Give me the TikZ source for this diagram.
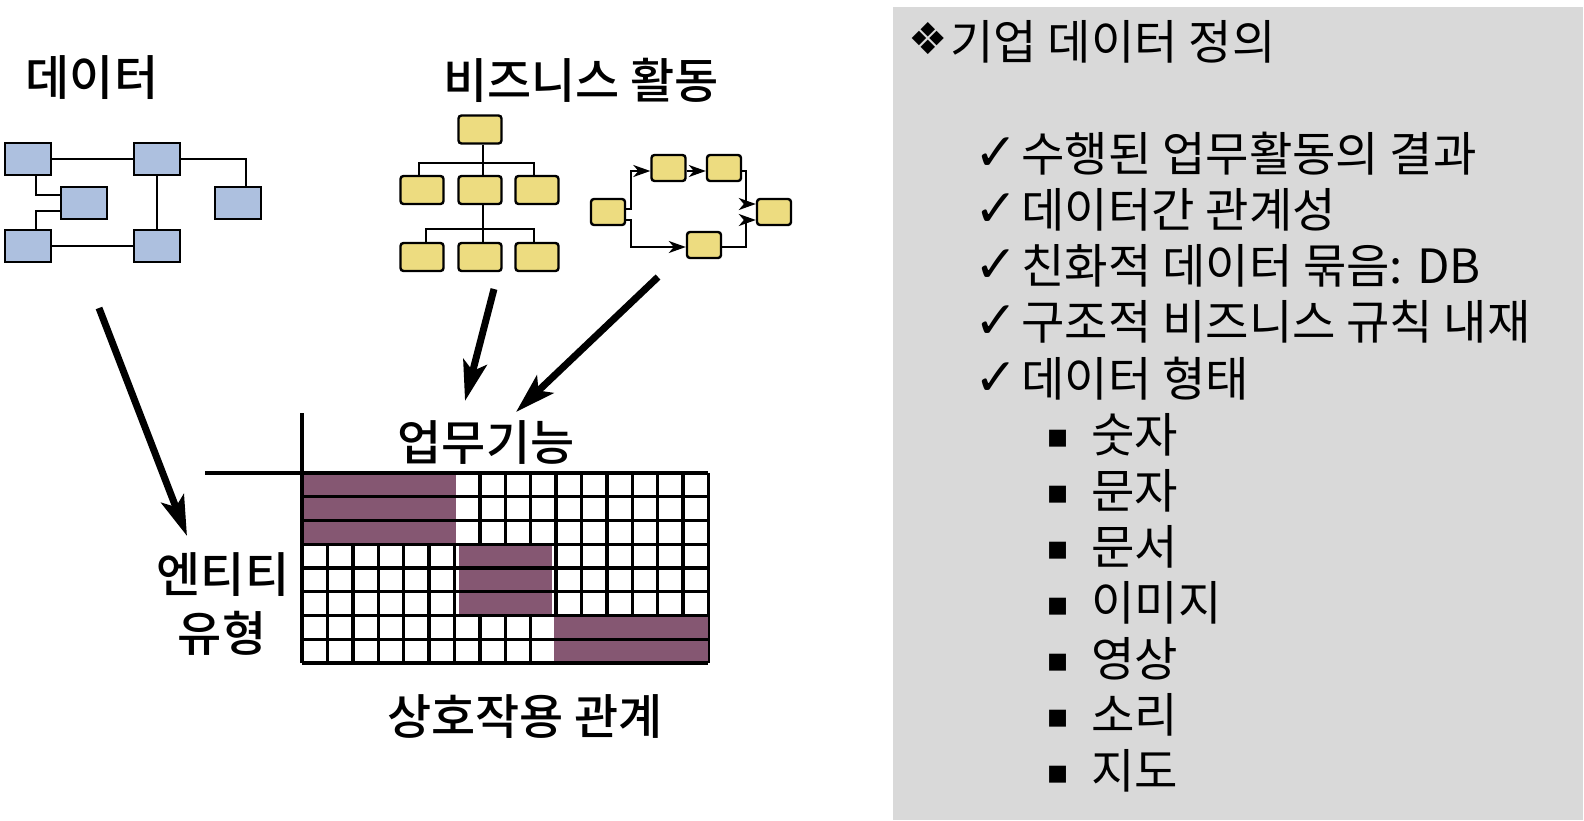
\documentclass[tikz,border=0pt]{standalone}
\usepackage{fontspec}
\usepackage{tikz}
\usetikzlibrary{arrows.meta}
\setmainfont{Noto Sans CJK KR}
\newfontfamily\headfont{Noto Sans CJK KR Medium}
\newfontfamily\symfont{DejaVu Sans}
\definecolor{bluefill}{HTML}{ADC0DF}
\definecolor{yellowfill}{HTML}{EDDC80}
\definecolor{plumfill}{HTML}{855772}
\definecolor{panelfill}{HTML}{D9D9D9}
\tikzset{
  bluebox/.style={draw,fill=bluefill,minimum width=23pt,minimum height=16pt,inner sep=0pt,line width=1.2pt},
  treebox/.style={draw,fill=yellowfill,rounded corners=1.5pt,minimum width=21.5pt,minimum height=14pt,inner sep=0pt,line width=1.2pt},
  flowbox/.style={draw,fill=yellowfill,rounded corners=1.5pt,minimum width=17pt,minimum height=13pt,inner sep=0pt,line width=1.2pt},
  linkline/.style={line width=1.1pt},
  flowline/.style={line width=1pt,-{Stealth[length=8.5pt,width=6pt,inset=2.5pt]}},
  bigarrow/.style={line width=3.5pt,-{Stealth[length=20pt,width=12pt,inset=4.5pt]}},
  heading/.style={inner sep=0pt,font=\headfont\fontsize{24}{28}\selectfont},
  bodytext/.style={anchor=base west,inner sep=0pt,font=\fontsize{23.6}{28}\selectfont},
  marktext/.style={anchor=base west,inner sep=0pt,font=\symfont\fontsize{26}{30}\selectfont},
  squaretext/.style={anchor=base west,inner sep=0pt,font=\symfont\fontsize{17}{24}\selectfont},
}
\begin{document}
\begin{tikzpicture}[x=0.5pt,y=-0.5pt]
  \useasboundingbox (0,0) rectangle (1584,820);
  \fill[panelfill] (893,7) rectangle (1583,820);

  \node[heading] (datatitle) at (92,78) {데이터};
  \node[heading] (worktitle) at (581,80) {비즈니스 활동};
  \node[heading] (funclabel) at (486,442) {업무기능};
  \node[heading] (entlabel1) at (223,575) {엔티티};
  \node[heading] (entlabel2) at (222,633) {유형};
  \node[heading] (rellabel) at (525,717) {상호작용 관계};

  % data model
  \node[bluebox] (d1) at (28,159) {};
  \node[bluebox] (d2) at (157,159) {};
  \node[bluebox] (d3) at (84,203) {};
  \node[bluebox] (d4) at (238,203) {};
  \node[bluebox] (d5) at (28,246) {};
  \node[bluebox] (d6) at (157,246) {};

  \draw[linkline] (d1)--(d2);
  \draw[linkline] (d5)--(d6);
  \draw[linkline] (d2)--(d6);
  \draw[linkline] (d2.east) -| ([xshift=4pt]d4.north);
  \draw[linkline] ([xshift=4pt]d1.south) |- ([yshift=4pt]d3.west);
  \draw[linkline] ([xshift=4pt]d5.north) |- ([yshift=-4pt]d3.west);

  % org tree
  \node[treebox] (t0) at (480,129.5) {};
  \node[treebox] (t1) at (422,190) {};
  \node[treebox] (t2) at (480,190) {};
  \node[treebox] (t3) at (537,190) {};
  \node[treebox] (t4) at (422,257) {};
  \node[treebox] (t5) at (480,257) {};
  \node[treebox] (t6) at (537,257) {};
  \coordinate (bus1) at (483,163);
  \coordinate (bus2) at (483,229);

  \draw[linkline] ([xshift=1.5pt]t0.south)--([xshift=1.5pt]t2.north);
  \draw[linkline] ([xshift=1.5pt]t2.south)--([xshift=1.5pt]t5.north);
  \draw[linkline] ([xshift=-1.5pt]t1.north) |- (bus1) -| ([xshift=-1.5pt]t3.north);
  \draw[linkline] ([xshift=2pt]t4.north) |- (bus2) -| ([xshift=-1.5pt]t6.north);

  % process flow
  \node[flowbox] (f1) at (608,212) {};
  \node[flowbox] (f2) at (668.5,168) {};
  \node[flowbox] (f3) at (724,168) {};
  \node[flowbox] (f4) at (704,245) {};
  \node[flowbox] (f5) at (774,212) {};
  \coordinate (upbend) at (631,171);
  \coordinate (downbend) at (631,247);
  \coordinate (rightbend) at (746,171);
  \coordinate (lowbend) at (746,247);

  \draw[flowline] ([yshift=1.5pt]f1.east) -| (upbend) -- ([yshift=-1.5pt]f2.west);
  \draw[flowline] ([yshift=-1.5pt]f2.east)--([yshift=-1.5pt]f3.west);
  \draw[flowline] ([yshift=-4pt]f1.east) -| (downbend) -- ([yshift=-1pt]f4.west);
  \draw[flowline] ([yshift=-1.5pt]f3.east) -- (rightbend) |- ([yshift=4pt]f5.west);
  \draw[flowline] ([yshift=-1pt]f4.east) -- (lowbend) |- ([yshift=-4pt]f5.west);

  % big arrows
  \coordinate (a1) at (99,308);
  \coordinate (a2) at (187,536);
  \coordinate (b1) at (494,289);
  \coordinate (b2) at (465,401);
  \coordinate (c1) at (658,277);
  \coordinate (c2) at (516,412);
  \draw[bigarrow] (a1)--(a2);
  \draw[bigarrow] (b1)--(b2);
  \draw[bigarrow] (c1)--(c2);

  % matrix
  \foreach \col in {0,...,16}
    \draw[line width=1.7pt] ({302+25.4*\col},473)--({302+25.4*\col},663);
  \fill[plumfill] (302,473) rectangle (456,544);
  \fill[plumfill] (458.5,544) rectangle (552,615.5);
  \fill[plumfill] (554,615.5) rectangle (708,663);
  \foreach \row in {0,...,8}
    \draw[line width=1.7pt] (302,{473+23.75*\row})--(708,{473+23.75*\row});
  \draw[line width=2pt] (302,413)--(302,663);
  \draw[line width=2pt] (205,473)--(708,473);

  % right panel
  \node[marktext,font=\symfont\fontsize{22}{24}\selectfont] (m0) at (908,54) {❖};
  \node[bodytext] (l0) at (950,59) {기업 데이터 정의};
  \node[marktext] (m1) at (974,170.6) {✓};
  \node[bodytext] (l1) at (1021,171.6) {수행된 업무활동의 결과};
  \node[marktext] (m2) at (974,226.7) {✓};
  \node[bodytext] (l2) at (1021,227.7) {데이터간 관계성};
  \node[marktext] (m3) at (974,282.8) {✓};
  \node[bodytext] (l3) at (1021,283.8) {친화적 데이터 묶음: DB};
  \node[marktext] (m4) at (974,338.9) {✓};
  \node[bodytext] (l4) at (1021,339.9) {구조적 비즈니스 규칙 내재};
  \node[marktext] (m5) at (974,395) {✓};
  \node[bodytext] (l5) at (1021,396) {데이터 형태};
  \node[squaretext] (s1) at (1046,447) {▪};
  \node[bodytext] (l6) at (1091,452.1) {숫자};
  \node[squaretext] (s2) at (1046,503) {▪};
  \node[bodytext] (l7) at (1091,508.2) {문자};
  \node[squaretext] (s3) at (1046,559) {▪};
  \node[bodytext] (l8) at (1091,564.3) {문서};
  \node[squaretext] (s4) at (1046,615) {▪};
  \node[bodytext] (l9) at (1091,620.4) {이미지};
  \node[squaretext] (s5) at (1046,671) {▪};
  \node[bodytext] (l10) at (1091,676.5) {영상};
  \node[squaretext] (s6) at (1046,727) {▪};
  \node[bodytext] (l11) at (1091,732.6) {소리};
  \node[squaretext] (s7) at (1046,783) {▪};
  \node[bodytext] (l12) at (1091,788.7) {지도};
\end{tikzpicture}
\end{document}
